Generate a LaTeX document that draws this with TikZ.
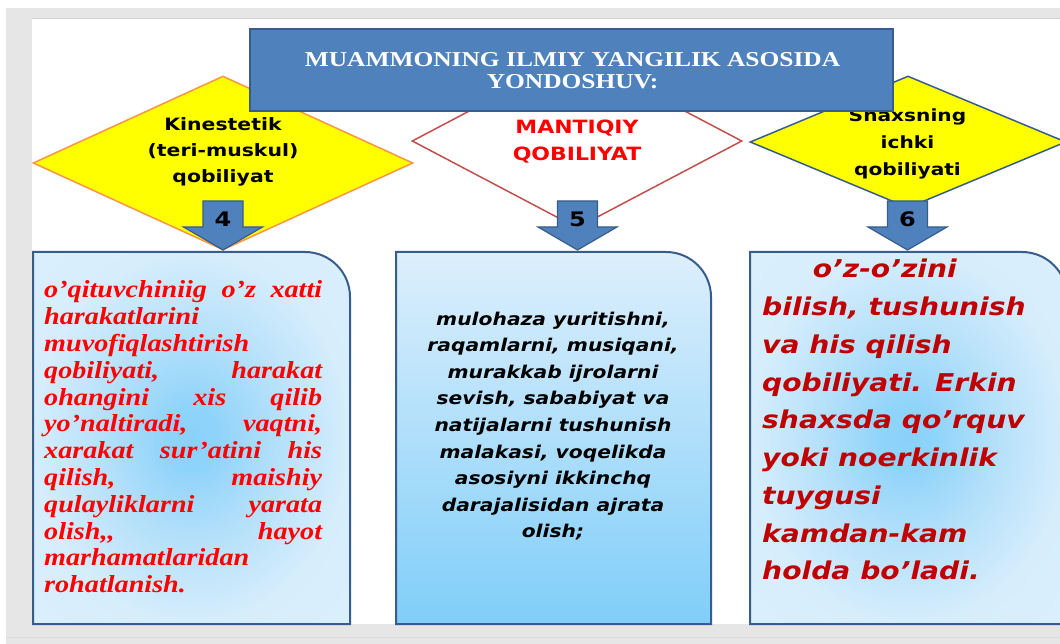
\documentclass[tikz,border=0pt]{standalone}
\usepackage{fontspec}
\usepackage{graphicx}
\setmainfont{Liberation Serif}
\newfontfamily\vsans{DejaVu Sans}
\usetikzlibrary{shapes.geometric}
\definecolor{bggray}{HTML}{E6E6E6}
\definecolor{titleF}{HTML}{4F81BD}
\definecolor{titleB}{HTML}{385D8A}
\definecolor{orangeB}{HTML}{F79646}
\definecolor{redB}{HTML}{C0504D}
\definecolor{yel}{HTML}{FFFF00}
\definecolor{boxTop}{HTML}{DDEFFC}
\definecolor{boxBot}{HTML}{80CEF9}
\definecolor{darkred}{HTML}{C00000}
\pgfdeclareradialshading{boxrad}{\pgfpoint{0bp}{0bp}}{%
  rgb(0bp)=(0.54,0.82,0.98);
  rgb(4bp)=(0.56,0.83,0.98);
  rgb(14bp)=(0.71,0.88,0.98);
  rgb(25bp)=(0.84,0.93,0.99);
  rgb(50bp)=(0.88,0.95,0.99)}
\newcommand\sxs[2]{\scalebox{#1}[1]{#2}}
\newcommand\ctrline[1]{\hbox to 0pt{\hss#1\hss}}
\newlength\jw
\setlength\jw{241.7pt}
\tikzset{
  dia/.style={diamond, inner sep=0pt, line width=1.5pt},
  blockarrow/.style={fill=titleF, draw=titleB, line width=1.2pt, line join=miter},
  cbox/.style={draw=titleB, line width=2pt},
  radbox/.style={cbox, shade, shading=boxrad},
  txt/.style={inner sep=0pt, anchor=base},
}
\begin{document}
\begin{tikzpicture}[x=1pt,y=-1pt]
\useasboundingbox (0,0) rectangle (1060,644);
% background
\fill[white] (0,0) rectangle (1060,644);
\fill[bggray] (6,8) rectangle (1060,644);
\fill[white] (32,18) rectangle (1060,624);
\draw[gray!35, line width=0.8pt] (32,18) -- (1060,18);
\draw[gray!30, line width=0.8pt] (6,637) -- (1060,637);

% diamonds
\node[dia, draw=orangeB, fill=yel, minimum width=380pt, minimum height=174pt] (dk) at (223,163) {};
\node[dia, draw=redB, fill=white, minimum width=330pt, minimum height=174pt] (dm) at (577,141) {};
\node[dia, draw=titleB, fill=yel, minimum width=316pt, minimum height=132pt] (ds) at (908,142) {};

% diamond texts
\node[txt] (tk) at (223,131) {\sxs{1.2}{\vtop{\vsans\bfseries\fontsize{17}{26}\selectfont
  \ctrline{Kinestetik}\ctrline{(teri-muskul)}\ctrline{qobiliyat}}}};
\node[txt] (tm) at (577,134) {\sxs{1.2}{\color{red}\vtop{\vsans\bfseries\fontsize{18.3}{27}\selectfont
  \ctrline{MANTIQIY}\ctrline{QOBILIYAT}}}};
\node[txt] (ts) at (907.5,122) {\sxs{1.2}{\vtop{\vsans\bfseries\fontsize{16.8}{27}\selectfont
  \ctrline{Shaxsning}\ctrline{ichki}\ctrline{qobiliyati}}}};

% title
\node[draw=titleB, fill=titleF, line width=1.5pt, minimum width=643pt, minimum height=82pt, inner sep=0pt] (title) at (571.5,70) {};
\node[txt] (tt) at (572.5,66.7) {\sxs{1.2}{\color{white}\vtop{\bfseries\fontsize{21.2}{22.3}\selectfont
  \ctrline{MUAMMONING ILMIY YANGILIK ASOSIDA}\ctrline{YONDOSHUV:}}}};

% content boxes
\path[radbox]
  (33,624) -- (33,252) -- (305,252) arc[start angle=-90, end angle=0, radius=45] -- (350,624) -- cycle;
\path[cbox, top color=boxTop, bottom color=boxBot]
  (396,624) -- (396,252) -- (666,252) arc[start angle=-90, end angle=0, radius=45] -- (711,624) -- cycle;
\path[radbox]
  (750,624) -- (750,252) -- (1022,252) arc[start angle=-90, end angle=0, radius=45] -- (1067,624) -- cycle;

% block arrows
\foreach \cx/\num/\nm in {223/4/a4, 577.5/5/a5, 907.5/6/a6}{
  \draw[blockarrow] ({\cx-20},201) -- ({\cx+20},201) -- ({\cx+20},227) -- ({\cx+39.5},227)
     -- (\cx,250) -- ({\cx-39.5},227) -- ({\cx-20},227) -- cycle;
  \node[txt] (\nm) at (\cx,227) {\sxs{1.2}{\vsans\bfseries\fontsize{20}{20}\selectfont \num}};
}

% left box text
\node[inner sep=0pt, anchor=base west] (tl) at (44,298) {\sxs{1.15}{\color{red}\vtop{\bfseries\itshape\fontsize{24.5}{26.8}\selectfont
  \hbox to\jw{o’qituvchiniig\hfill o’z\hfill xatti}
  \hbox to\jw{harakatlarini\hfill}
  \hbox to\jw{muvofiqlashtirish\hfill}
  \hbox to\jw{qobiliyati,\hfill harakat}
  \hbox to\jw{ohangini\hfill xis\hfill qilib}
  \hbox to\jw{yo’naltiradi,\hfill vaqtni,}
  \hbox to\jw{xarakat\hfill sur’atini\hfill his}
  \hbox to\jw{qilish,\hfill maishiy}
  \hbox to\jw{qulayliklarni\hfill yarata}
  \hbox to\jw{olish,{},\hfill hayot}
  \hbox to\jw{marhamatlaridan\hfill}
  \hbox to\jw{rohatlanish.\hfill}}}};

% middle box text
\node[txt] (tmid) at (553,325) {\sxs{1.15}{\vtop{\vsans\bfseries\itshape\fontsize{17.6}{26.6}\selectfont
  \ctrline{mulohaza yuritishni,}
  \ctrline{raqamlarni, musiqani,}
  \ctrline{murakkab ijrolarni}
  \ctrline{sevish, sababiyat va}
  \ctrline{natijalarni tushunish}
  \ctrline{malakasi, voqelikda}
  \ctrline{asosiyni ikkinchq}
  \ctrline{darajalisidan ajrata}
  \ctrline{olish;}}}};

% right box text
\node[inner sep=0pt, anchor=base west] (tr) at (762,278) {\sxs{1.15}{\color{darkred}\vtop{\vsans\bfseries\itshape\fontsize{24.5}{37.75}\selectfont
  \hbox{\hskip44pt o’z-o’zini}
  \hbox{bilish, tushunish}
  \hbox{va his qilish}
  \hbox{qobiliyati. Erkin}
  \hbox{shaxsda qo’rquv}
  \hbox{yoki noerkinlik}
  \hbox{tuygusi}
  \hbox{kamdan-kam}
  \hbox{holda bo’ladi.}}}};
\end{tikzpicture}
\end{document}
